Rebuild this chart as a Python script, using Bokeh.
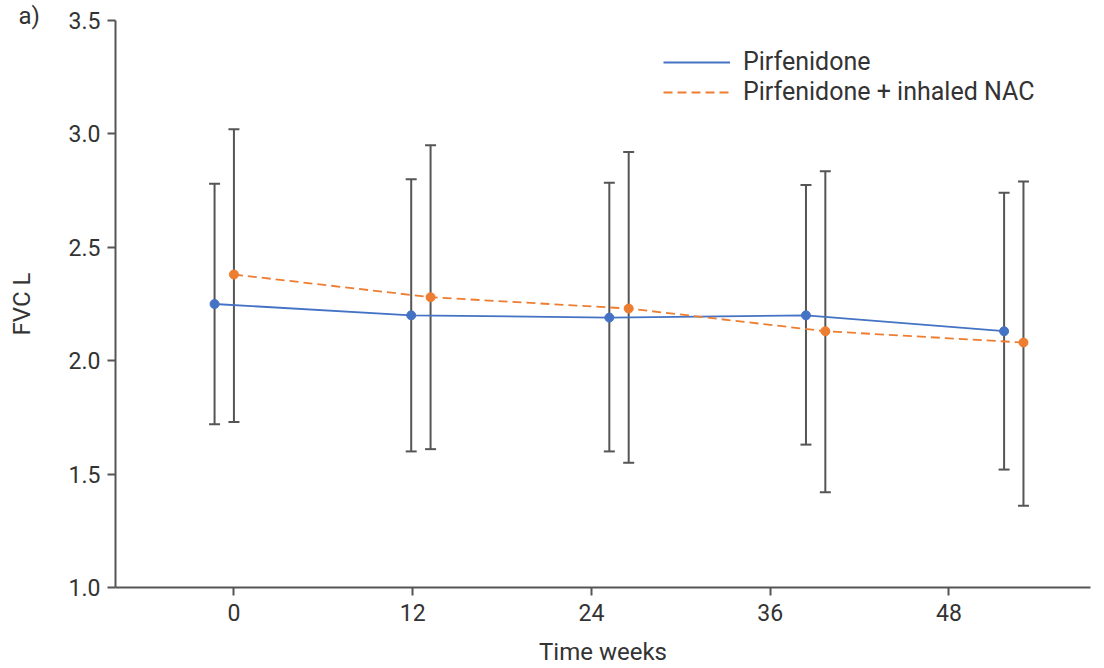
from bokeh.plotting import figure
from bokeh.models import (ColumnDataSource, Whisker, TeeHead, Range1d, FixedTicker,
                          PrintfTickFormatter, Legend, LegendItem)
from bokeh.embed import file_html
from bokeh.resources import INLINE

# ---- data ----
tick_weeks = [0, 12, 24, 36, 48]
y_ticks = [1.0, 1.5, 2.0, 2.5, 3.0, 3.5]

pirf_x = [-1.3, 11.9, 25.2, 38.4, 51.7]
pirf_mean = [2.25, 2.20, 2.19, 2.20, 2.13]
pirf_upper = [2.78, 2.80, 2.785, 2.775, 2.74]
pirf_lower = [1.72, 1.60, 1.60, 1.63, 1.52]

nac_x = [0.0, 13.2, 26.5, 39.7, 53.0]
nac_mean = [2.38, 2.28, 2.23, 2.13, 2.08]
nac_upper = [3.02, 2.95, 2.92, 2.835, 2.79]
nac_lower = [1.73, 1.61, 1.55, 1.42, 1.36]

BLUE = "#4472C4"
ORANGE = "#ED7D31"
AXIS = "#555555"
TEXT = "#333333"
FONT = "Roboto"

p = figure(width=1104, height=668, output_backend="svg", toolbar_location=None,
           x_range=Range1d(-7.95, 57.5), y_range=Range1d(1.0, 3.5),
           min_border_left=115, min_border_right=14, min_border_top=20,
           min_border_bottom=81)
p.outline_line_color = None
p.xgrid.visible = False
p.ygrid.visible = False
p.background_fill_color = "white"

# panel tag "a)" as title
p.title.text = "a)"
p.title.align = "left"
p.title.offset = -97
p.title.standoff = -19
p.title.text_font = FONT
p.title.text_font_size = "24px"
p.title.text_font_style = "normal"
p.title.text_color = TEXT

src_p = ColumnDataSource(dict(x=pirf_x, y=pirf_mean, upper=pirf_upper, lower=pirf_lower))
src_n = ColumnDataSource(dict(x=nac_x, y=nac_mean, upper=nac_upper, lower=nac_lower))

for src in (src_p, src_n):
    w = Whisker(source=src, base="x", upper="upper", lower="lower",
                line_color=AXIS, line_width=2,
                upper_head=TeeHead(size=11, line_color=AXIS, line_width=2),
                lower_head=TeeHead(size=11, line_color=AXIS, line_width=2))
    p.add_layout(w)

l1 = p.line("x", "y", source=src_p, line_color=BLUE, line_width=1.8)
l2 = p.line("x", "y", source=src_n, line_color=ORANGE, line_width=1.8, line_dash="9 5")
p.scatter("x", "y", source=src_p, size=9, fill_color=BLUE, line_color=BLUE)
p.scatter("x", "y", source=src_n, size=9, fill_color=ORANGE, line_color=ORANGE)

# axes
for ax in (p.xaxis[0], p.yaxis[0]):
    ax.axis_line_color = AXIS
    ax.axis_line_width = 2
    ax.major_tick_line_color = AXIS
    ax.major_tick_line_width = 2
    ax.major_tick_out = 8
    ax.major_tick_in = 0
    ax.minor_tick_line_color = None
    ax.major_label_text_font = FONT
    ax.major_label_text_font_size = "23px"
    ax.major_label_text_color = TEXT
    ax.axis_label_text_font = FONT
    ax.axis_label_text_font_size = "24px"
    ax.axis_label_text_font_style = "normal"
    ax.axis_label_text_color = TEXT

p.xaxis.ticker = FixedTicker(ticks=tick_weeks)
p.yaxis.ticker = FixedTicker(ticks=y_ticks)
p.yaxis.formatter = PrintfTickFormatter(format="%.1f")
p.xaxis.axis_label = "Time weeks"
p.yaxis.axis_label = "FVC L"
p.xaxis.major_label_standoff = 8
p.yaxis.major_label_standoff = 7
p.yaxis.axis_label_standoff = 30
p.xaxis.axis_label_standoff = 14

legend = Legend(items=[LegendItem(label="Pirfenidone", renderers=[l1]),
                       LegendItem(label="Pirfenidone + inhaled NAC", renderers=[l2])],
                location=(548, 481), orientation="vertical",
                glyph_width=67, glyph_height=20, label_standoff=13, spacing=1,
                padding=0, margin=0, border_line_color=None,
                background_fill_alpha=0,
                label_text_font=FONT, label_text_font_size="25px",
                label_text_color=TEXT)
p.add_layout(legend)

open("out.html", "w").write(file_html(p, INLINE))
